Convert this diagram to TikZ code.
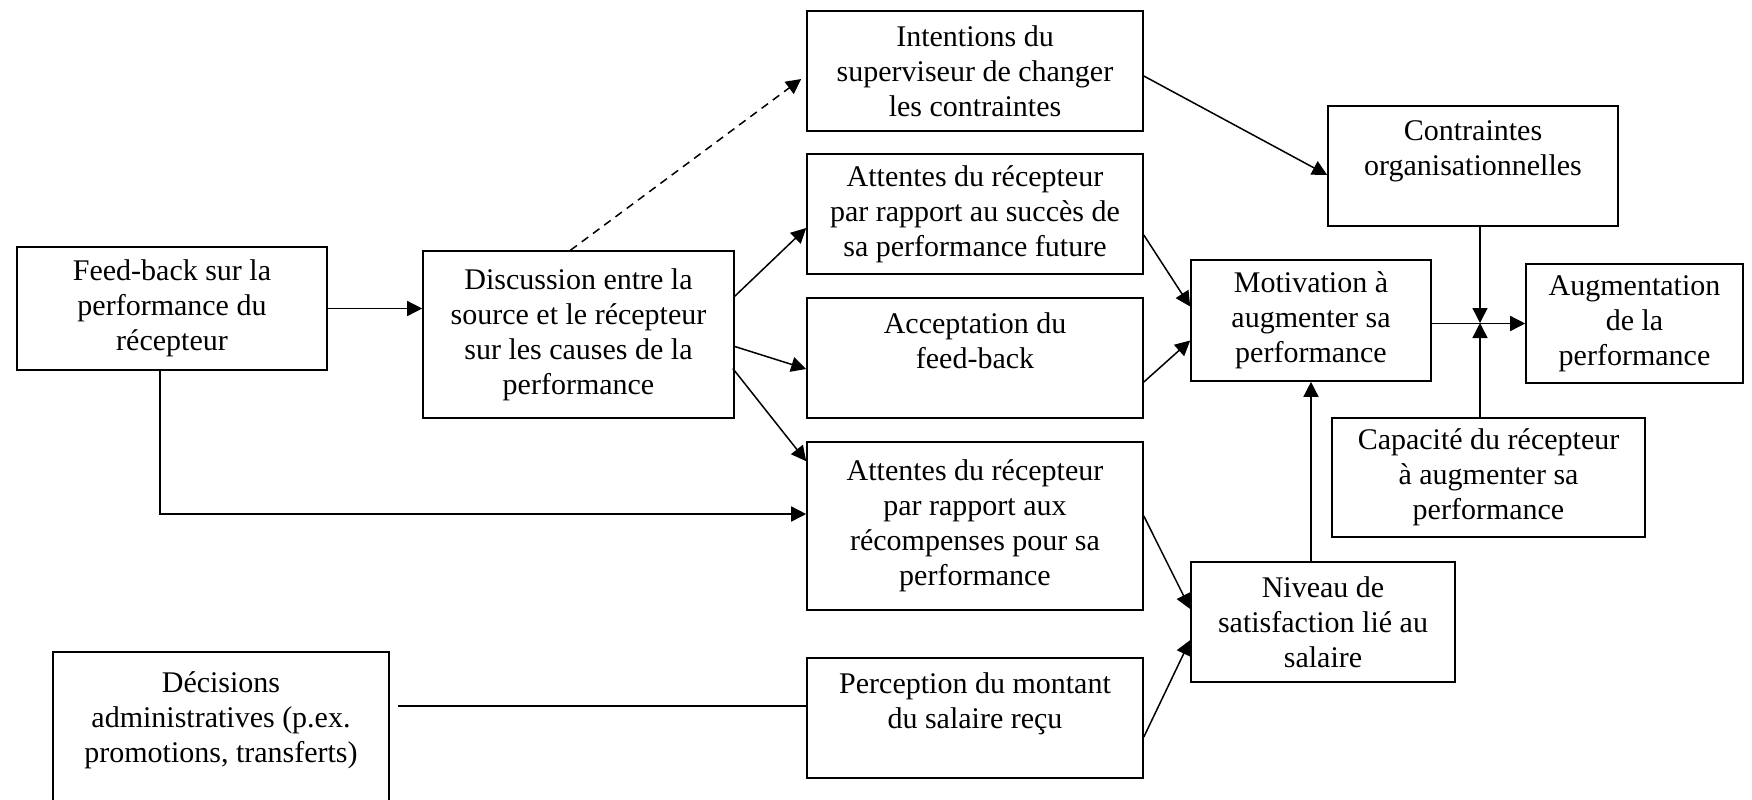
\documentclass[tikz,border=0pt]{standalone}
\usepackage{fontspec}
\setmainfont{Liberation Serif}
\usetikzlibrary{arrows.meta}

\begin{document}
\begin{tikzpicture}[x=0.5pt, y=-0.5pt,
  box/.style={draw, line width=0.8pt, inner sep=0pt, align=center, font=\fontsize{15}{17.5}\selectfont},
  arr/.style={line width=0.75pt, -{Triangle[length=7.5pt,width=7.5pt]}}]
\clip (0,0) rectangle (1752,799);
% boxes
\node[box, minimum width=155pt, minimum height=61.5pt] (feed) at (172,308.5) {Feed-back sur la\\performance du\\récepteur};
\node[box, minimum width=155.5pt, minimum height=83.5pt] (disc) at (578.5,334.5) {Discussion entre la\\source et le récepteur\\sur les causes de la\\performance};
\node[box, minimum width=168pt, minimum height=60pt] (inten) at (975,71) {Intentions du\\superviseur de changer\\les contraintes};
\node[box, minimum width=168pt, minimum height=60pt] (succ) at (975,214) {Attentes du récepteur\\par rapport au succès de\\sa performance future};
\node[box, minimum width=168pt, minimum height=60pt] (accep) at (975,358) {Acceptation du\\feed-back\\ ~};
\node[box, minimum width=168pt, minimum height=84pt] (recomp) at (975,526) {Attentes du récepteur\\par rapport aux\\récompenses pour sa\\performance};
\node[box, minimum width=168pt, minimum height=60pt] (percep) at (975,718) {Perception du montant\\du salaire reçu\\ ~};
\node[box, minimum width=168pt, minimum height=83pt] (decis) at (221,735) {Décisions\\administratives (p.ex.\\promotions, transferts)\\ ~};
\node[box, minimum width=145pt, minimum height=60pt] (contr) at (1473,166) {Contraintes\\organisationnelles\\ ~};
\node[box, minimum width=120pt, minimum height=60.5pt] (motiv) at (1311,320.5) {Motivation à\\augmenter sa\\performance};
\node[box, minimum width=108.5pt, minimum height=59.5pt] (augm) at (1634.5,323.5) {Augmentation\\de la\\performance};
\node[box, minimum width=156.5pt, minimum height=59.5pt] (capac) at (1488.5,477.5) {Capacité du récepteur\\à augmenter sa\\performance};
\node[box, minimum width=132pt, minimum height=60pt] (niveau) at (1323,622) {Niveau de\\satisfaction lié au\\salaire};
\coordinate (jn) at (1480,323);
% connectors
\draw[arr] (feed.east) -- (feed.east -| disc.west);
\draw[arr] ([xshift=-6pt]feed.south) |- ([yshift=6pt]recomp.west);
\draw[arr, dash pattern=on 4pt off 3pt] ([xshift=-4pt]disc.north) -- ([shift={(-2.5pt,-4pt)}]inten.west);
\draw[arr] ([yshift=-23pt]disc.north east) -- ([yshift=-7pt]succ.west);
\draw[arr] ([yshift=-6pt]disc.east) -- ([yshift=-5.5pt]accep.west);
\draw[arr] ([shift={(-1pt,-17pt)}]disc.east) -- ([yshift=-10pt]recomp.north west);
\draw[arr] ([yshift=-2.5pt]inten.east) -- ([yshift=-4.5pt]contr.west);
\draw[arr] ([yshift=-10.5pt]succ.east) -- ([yshift=7pt]motiv.west);
\draw[arr] ([yshift=-12pt]accep.east) -- ([yshift=-10pt]motiv.west);
\draw[arr] ([yshift=5pt]recomp.east) -- ([yshift=6.5pt]niveau.west);
\draw[arr] ([yshift=-9.5pt]percep.east) -- ([yshift=-9pt]niveau.west);
\draw[line width=0.75pt] ([shift={(4pt,14.5pt)}]decis.east) -- ([yshift=6pt]percep.west);
\draw[arr] (niveau.north -| motiv.south) -- (motiv.south);
\draw[arr] (augm.west -| motiv.east) -- (augm.west);
\draw[arr] (contr.south -| jn) -- (jn);
\draw[arr] (capac.north -| jn) -- (jn);
\end{tikzpicture}
\end{document}
